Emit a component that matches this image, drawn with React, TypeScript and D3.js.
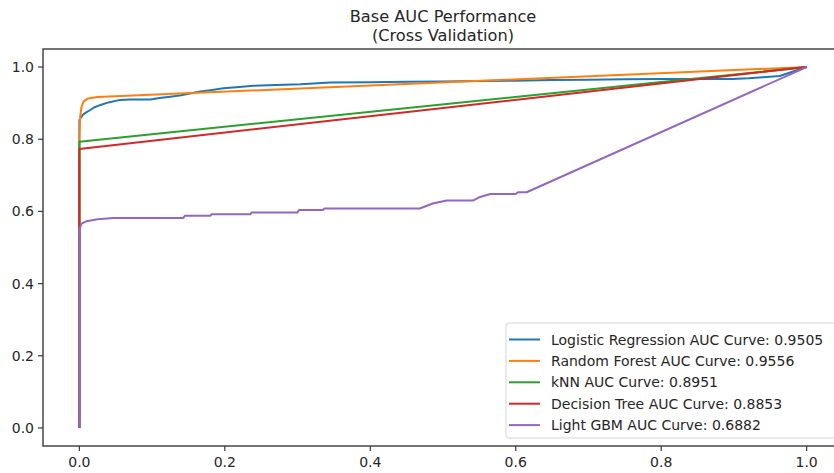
import React from "react";
import * as d3 from "d3";

// ROC curves
const lrFpr = [0, 0, 0.002, 0.005, 0.01, 0.015, 0.02, 0.029, 0.04, 0.056, 0.07, 0.098, 0.11, 0.125, 0.14, 0.166, 0.18, 0.198, 0.22, 0.239, 0.27, 0.304, 0.345, 0.4, 0.45, 0.5, 0.55, 0.6, 0.65, 0.7, 0.75, 0.8, 0.85, 0.898, 0.92, 0.94, 0.963, 1];
const lrTpr = [0, 0.853, 0.86, 0.868, 0.875, 0.881, 0.888, 0.895, 0.902, 0.909, 0.91, 0.91, 0.914, 0.918, 0.922, 0.932, 0.936, 0.941, 0.945, 0.948, 0.95, 0.952, 0.957, 0.958, 0.959, 0.96, 0.961, 0.962, 0.964, 0.965, 0.966, 0.967, 0.967, 0.967, 0.969, 0.972, 0.975, 1];

const rfFpr = [0, 0, 0.001, 0.003, 0.006, 0.012, 0.025, 1];
const rfTpr = [0, 0.8, 0.86, 0.89, 0.905, 0.913, 0.917, 1];

const knnFpr = [0, 0, 1];
const knnTpr = [0, 0.793, 1];

const dtFpr = [0, 0, 1];
const dtTpr = [0, 0.773, 1];

const gbmFpr = [0, 0, 0.003, 0.01, 0.025, 0.047, 0.143, 0.145, 0.18, 0.182, 0.235, 0.237, 0.3, 0.302, 0.335, 0.337, 0.468, 0.486, 0.505, 0.541, 0.551, 0.565, 0.6, 0.603, 0.615, 1];
const gbmTpr = [0, 0.55, 0.566, 0.573, 0.578, 0.582, 0.582, 0.588, 0.588, 0.592, 0.592, 0.597, 0.597, 0.604, 0.604, 0.608, 0.608, 0.622, 0.63, 0.63, 0.64, 0.648, 0.648, 0.653, 0.653, 1];

const names = [
  "Logistic Regression AUC Curve: 0.9505",
  "Random Forest AUC Curve: 0.9556",
  "kNN AUC Curve: 0.8951",
  "Decision Tree AUC Curve: 0.8853",
  "Light GBM AUC Curve: 0.6882",
];
const colors = ["#1f77b4", "#ff7f0e", "#2ca02c", "#d62728", "#9467bd"];
const ticks = [0, 0.2, 0.4, 0.6, 0.8, 1.0];

const series = [
  [lrFpr, lrTpr],
  [rfFpr, rfTpr],
  [knnFpr, knnTpr],
  [dtFpr, dtTpr],
  [gbmFpr, gbmTpr],
];

const W = 834;
const H = 473;
const left = 43, right = 843, top = 49, bottom = 446;
const font = "DejaVu Sans, sans-serif";

export default function App() {
  const x = d3.scaleLinear().domain([-0.05, 1.05]).range([left, right]);
  const y = d3.scaleLinear().domain([-0.05, 1.05]).range([bottom, top]);
  const line = d3
    .line<[number, number]>()
    .x((d) => x(d[0]))
    .y((d) => y(d[1]));

  const legX = 506, legY = 323, rowH = 21.4;

  return (
    <svg
      width={W}
      height={H}
      style={{ position: "absolute", left: 0, top: 0, background: "#fff" }}
      fontFamily={font}
    >
      <rect width={W} height={H} fill="#fff" />
      <text x={(left + right) / 2} y={22} textAnchor="middle" fontSize={16.2} fill="#262626">
        Base AUC Performance
      </text>
      <text x={(left + right) / 2} y={41} textAnchor="middle" fontSize={16.2} fill="#262626">
        (Cross Validation)
      </text>

      {/* curves */}
      {series.map(([fx, ty], i) => (
        <path
          key={i}
          d={line(fx.map((v, j) => [v, ty[j]] as [number, number])) || ""}
          fill="none"
          stroke={colors[i]}
          strokeWidth={2}
          strokeLinejoin="round"
        />
      ))}

      {/* frame */}
      <rect x={left} y={top} width={right - left} height={bottom - top} fill="none" stroke="#3a3a3a" strokeWidth={1.4} />

      {/* x ticks */}
      {ticks.map((t) => (
        <g key={"x" + t}>
          <line x1={x(t)} x2={x(t)} y1={bottom} y2={bottom + 5} stroke="#3a3a3a" strokeWidth={1.2} />
          <text x={x(t)} y={bottom + 21} textAnchor="middle" fontSize={14} fill="#262626">
            {t.toFixed(1)}
          </text>
        </g>
      ))}
      {/* y ticks */}
      {ticks.map((t) => (
        <g key={"y" + t}>
          <line x1={left - 5} x2={left} y1={y(t)} y2={y(t)} stroke="#3a3a3a" strokeWidth={1.2} />
          <text x={left - 9} y={y(t) + 5} textAnchor="end" fontSize={14} fill="#262626">
            {t.toFixed(1)}
          </text>
        </g>
      ))}

      {/* legend */}
      <rect x={legX} y={legY} width={330} height={115} rx={3} fill="#fff" fillOpacity={0.8} stroke="#d5d5d5" strokeWidth={1} />
      {names.map((n, i) => {
        const ry = legY + 16.5 + i * rowH;
        return (
          <g key={n}>
            <line x1={509} x2={540} y1={ry} y2={ry} stroke={colors[i]} strokeWidth={2} />
            <text x={551} y={ry + 5} fontSize={14} fill="#262626">
              {n}
            </text>
          </g>
        );
      })}
    </svg>
  );
}
